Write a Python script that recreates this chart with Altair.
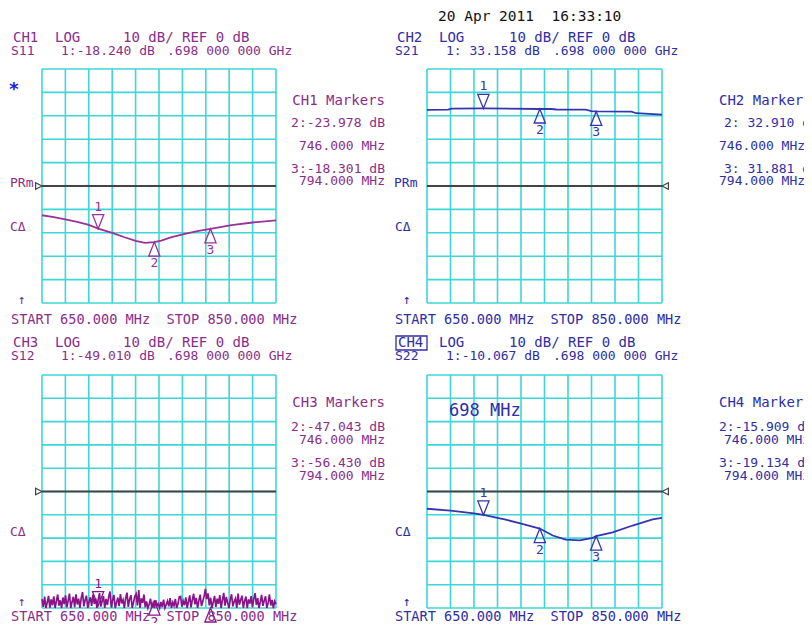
import altair as alt
import pandas as pd

# ---------------- data ----------------
freqs_grid = [650, 670, 690, 710, 730, 750, 770, 790, 810, 830, 850]
db_grid = [-50, -40, -30, -20, -10, 0, 10, 20, 30, 40, 50]

marker_freq = [698, 746, 794]
marker_id = ["1", "2", "3"]

ch1_freq = [650, 660, 670, 680, 690, 698, 710, 720, 730, 738, 746, 752, 760, 774, 784, 794, 812, 830, 850]
ch1_s11 = [-12.5, -13.3, -14.3, -15.3, -16.6, -18.24, -20.0, -21.8, -23.4, -24.3, -23.98, -23.3,
           -22.0, -20.2, -19.2, -18.30, -16.7, -15.6, -14.7]
ch1_mk = [-18.240, -23.978, -18.301]

ch2_freq = [650, 668, 671, 698, 746, 756, 760, 785, 790, 794, 824, 828, 850]
ch2_s21 = [32.5, 32.6, 33.1, 33.16, 32.91, 32.9, 32.7, 32.6, 32.0, 31.88, 31.8, 31.1, 30.5]
ch2_mk = [33.158, 32.910, 31.881]

ch3_s12 = [
    -46.2, -49.5, -45.1, -50.3, -47.6, -44.8, -49.9, -46.3, -48.8, -45.0, -50.6, -47.1, -44.2, -49.0, -46.7, -50.2, -45.5, -48.3, -44.6, -49.7,
    -46.9, -43.8, -50.1, -47.4, -45.2, -49.6, -44.1, -48.5, -46.0, -50.4, -45.7, -43.2, -49.3, -46.6, -44.7, -50.0, -47.3, -45.4, -49.1, -44.3,
    -48.2, -45.9, -50.7, -46.4, -43.6, -49.4, -47.0, -44.9, -50.5, -46.1, -48.7, -45.3, -42.9, -49.8, -46.8, -44.4, -50.2, -47.7, -45.6, -49.2,
    -44.0, -48.0, -46.5, -50.8, -45.8, -43.4, -49.5, -46.2, -44.5, -50.3, -47.5, -45.1, -44.0, -48.9, -42.3, -50.6, -45.9, -47.8, -44.2, -49.7,
    -47.2, -50.9, -48.4, -46.0, -49.9, -47.9, -50.4, -46.7, -49.1, -48.2, -50.7, -47.4, -49.6, -46.4, -50.1, -48.6, -47.0, -49.3, -45.8, -50.5,
    -47.6, -49.0, -46.1, -50.2, -48.3, -45.2, -45.0, -49.4, -46.9, -48.8, -45.4, -50.3, -47.3, -44.6, -49.7, -46.5, -43.9, -48.4, -45.7, -50.0,
    -46.8, -44.3, -49.2, -47.1, -45.0, -41.8, -46.2, -43.7, -48.9, -45.6, -50.1, -47.5, -44.8, -49.5, -46.0, -48.2, -44.5, -50.4, -46.7, -43.5,
    -49.0, -45.3, -47.8, -50.7, -46.4, -44.1, -49.3, -47.2, -45.9, -50.2, -43.8, -48.6, -46.6, -44.7, -49.9, -47.0, -45.1, -50.5, -46.3, -48.1,
    -44.9, -49.6, -46.1, -43.6, -48.7, -45.8, -50.3, -47.4, -44.4, -49.1, -46.8, -45.0, -50.0, -47.7, -44.2, -48.9, -46.5, -50.4, -47.1, -48.3,
]
ch3_freq = [650 + i * 200 / (len(ch3_s12) - 1) for i in range(len(ch3_s12))]
ch3_mk = [-49.010, -47.043, -56.430]

ch4_freq = [650, 670, 690, 698, 717, 731, 746, 757, 768, 780, 791, 794, 808, 825, 842, 850]
ch4_s22 = [-7.4, -8.2, -9.4, -10.07, -12.1, -13.9, -15.91, -18.9, -20.7, -21.0, -19.9, -19.13, -17.5,
           -14.6, -12.0, -11.3]
ch4_mk = [-10.067, -15.909, -19.134]

# ---------------- style ----------------
OFF = 8
FONT = "DejaVu Sans Mono"
GRID = "#3ED6D6"
REF = "#444444"
P = "#8B2D8B"      # purple text
B = "#2E2EA6"      # blue text
TP = "#993399"     # purple trace
TB = "#3535B0"     # blue trace
TN = "#8A138A"     # noise trace

DOWN = "M-0.8,-2L0.8,-2L0,0Z"
UP = "M0,0L0.8,2L-0.8,2Z"
ARR_R = "M-1.6,-0.8L0,0L-1.6,0.8Z"
ARR_L = "M1.6,-0.8L0,0L1.6,0.8Z"


def panel(xr, yr, tf, tv, mv, tcolor, side, lw=1.4):
    xs = alt.Scale(domain=[650, 850], range=xr, nice=False, zero=False)
    ys = alt.Scale(domain=[-50, 50], range=yr, nice=False, zero=False, clamp=True)

    def X(f):
        return alt.X(f, type="quantitative", scale=xs, axis=None)

    def Y(f):
        return alt.Y(f, type="quantitative", scale=ys, axis=None)

    gv = pd.DataFrame({"f": freqs_grid, "lo": -50, "hi": 50})
    gh = pd.DataFrame({"d": db_grid, "f0": 650, "f1": 850})
    ref = pd.DataFrame({"d": [0], "f0": [650], "f1": [850]})
    arr = pd.DataFrame({"f": [650 if side == "left" else 850], "d": [0]})
    tr = pd.DataFrame({"f": tf, "v": tv})
    mk = pd.DataFrame({"f": marker_freq, "v": mv, "id": marker_id})
    down = mk[mk.id == "1"]
    up = mk[mk.id != "1"]
    L = [
        alt.Chart(gv).mark_rule(color=GRID, strokeWidth=1.6).encode(x=X("f"), y=Y("lo"), y2="hi"),
        alt.Chart(gh).mark_rule(color=GRID, strokeWidth=1.6).encode(y=Y("d"), x=X("f0"), x2="f1"),
        alt.Chart(ref).mark_rule(color=REF, strokeWidth=2).encode(y=Y("d"), x=X("f0"), x2="f1"),
        alt.Chart(arr).mark_point(shape=ARR_R if side == "left" else ARR_L, size=64, filled=False,
                                  stroke=REF, strokeWidth=1.2, opacity=1).encode(x=X("f"), y=Y("d")),
        alt.Chart(tr).mark_line(color=tcolor, strokeWidth=lw).encode(x=X("f"), y=Y("v")),
        alt.Chart(down).mark_point(shape=DOWN, size=196, filled=False, stroke=tcolor, strokeWidth=1.3,
                                   opacity=1).encode(x=X("f"), y=Y("v")),
        alt.Chart(up).mark_point(shape=UP, size=196, filled=False, stroke=tcolor, strokeWidth=1.3,
                                 opacity=1).encode(x=X("f"), y=Y("v")),
        alt.Chart(down).mark_text(dy=-22, font=FONT, fontSize=13, color=tcolor).encode(
            x=X("f"), y=Y("v"), text="id:N"),
        alt.Chart(up).mark_text(dy=21, font=FONT, fontSize=13, color=tcolor).encode(
            x=X("f"), y=Y("v"), text="id:N"),
    ]
    return L


NB = "\u00a0"
START = "START 650.000 MHz" + NB + NB + "STOP 850.000 MHz"
labels = [
    (438, 17, "20 Apr 2011" + NB + NB + "16:33:10", "#111111", 14.5, "left"),
    # CH1
    (13, 38, "CH1", P, 14, "left"), (55, 38, "LOG", P, 14, "left"), (123, 38, "10 dB/ REF 0 dB", P, 14, "left"),
    (11, 51, "S11", P, 13, "left"), (61, 51, "1:-18.240 dB", P, 13, "left"),
    (167, 51, ".698 000 000 GHz", P, 13, "left"),
    (385, 101, "CH1 Markers", P, 14, "right"), (385, 123, "2:-23.978 dB", P, 13, "right"),
    (385, 146, "746.000 MHz", P, 13, "right"), (385, 169, "3:-18.301 dB", P, 13, "right"),
    (385, 181, "794.000 MHz", P, 13, "right"),
    (10, 183, "PRm", P, 13, "left"), (10, 227, "CΔ", P, 13, "left"), (18, 300, "↑", P, 13, "left"),
    (11, 320, START, P, 13.6, "left"),
    # CH2
    (397, 38, "CH2", B, 14, "left"), (439, 38, "LOG", B, 14, "left"), (509, 38, "10 dB/ REF 0 dB", B, 14, "left"),
    (395, 51, "S21", B, 13, "left"), (446, 51, "1: 33.158 dB", B, 13, "left"),
    (553, 51, ".698 000 000 GHz", B, 13, "left"),
    (719, 101, "CH2 Markers", B, 14, "left"), (724, 123, "2: 32.910 dB", B, 13, "left"),
    (719, 146, "746.000 MHz", B, 13, "left"), (724, 169, "3: 31.881 dB", B, 13, "left"),
    (719, 181, "794.000 MHz", B, 13, "left"),
    (394, 183, "PRm", B, 13, "left"), (395, 227, "CΔ", B, 13, "left"), (403, 300, "↑", B, 13, "left"),
    (395, 320, START, B, 13.6, "left"),
    # CH3
    (13, 343, "CH3", P, 14, "left"), (55, 343, "LOG", P, 14, "left"), (123, 343, "10 dB/ REF 0 dB", P, 14, "left"),
    (11, 356, "S12", P, 13, "left"), (61, 356, "1:-49.010 dB", P, 13, "left"),
    (167, 356, ".698 000 000 GHz", P, 13, "left"),
    (385, 403, "CH3 Markers", P, 14, "right"), (385, 427, "2:-47.043 dB", P, 13, "right"),
    (385, 440, "746.000 MHz", P, 13, "right"), (385, 463, "3:-56.430 dB", P, 13, "right"),
    (385, 476, "794.000 MHz", P, 13, "right"),
    (10, 532, "CΔ", P, 13, "left"), (18, 602, "↑", P, 13, "left"),
    (11, 617, START, P, 13.6, "left"),
    # CH4
    (398, 343, "CH4", B, 14, "left"), (439, 343, "LOG", B, 14, "left"), (509, 343, "10 dB/ REF 0 dB", B, 14, "left"),
    (395, 356, "S22", B, 13, "left"), (446, 356, "1:-10.067 dB", B, 13, "left"),
    (553, 356, ".698 000 000 GHz", B, 13, "left"),
    (719, 403, "CH4 Markers", B, 14, "left"), (719, 427, "2:-15.909 dB", B, 13, "left"),
    (724, 440, "746.000 MHz", B, 13, "left"), (719, 463, "3:-19.134 dB", B, 13, "left"),
    (724, 476, "794.000 MHz", B, 13, "left"),
    (449, 411, "698 MHz", B, 17, "left"),
    (395, 532, "CΔ", B, 13, "left"), (403, 602, "↑", B, 13, "left"),
    (395, 617, START, B, 13.6, "left"),
]
lab = pd.DataFrame(labels, columns=["x", "y", "t", "c", "s", "a"])
lab["px"] = lab.x - OFF
lab["py"] = lab.y - OFF

layers = []
layers += panel([34, 268], [295, 61], ch1_freq, ch1_s11, ch1_mk, TP, "left", 1.8)
layers += panel([419, 654], [295, 61], ch2_freq, ch2_s21, ch2_mk, TB, "right", 1.8)
layers += panel([34, 268], [600, 367], ch3_freq, ch3_s12, ch3_mk, TN, "left", 1.7)
layers += panel([419, 654], [600, 367], ch4_freq, ch4_s22, ch4_mk, TB, "right", 1.8)

for a in ["left", "right"]:
    layers.append(
        alt.Chart(lab[lab.a == a]).mark_text(align=a, baseline="middle", font=FONT).encode(
            x=alt.X("px:Q", scale=None, axis=None),
            y=alt.Y("py:Q", scale=None, axis=None),
            text="t:N",
            color=alt.Color("c:N", scale=None),
            size=alt.Size("s:Q", scale=None),
        )
    )

star = pd.DataFrame({"px": [14 - OFF], "py": [90 - OFF], "t": ["*"]})
layers.append(alt.Chart(star).mark_text(font=FONT, fontSize=18, fontWeight="bold", color="#1A1AE0",
                                        baseline="middle").encode(
    x=alt.X("px:Q", scale=None, axis=None), y=alt.Y("py:Q", scale=None, axis=None), text="t:N"))

box = pd.DataFrame({"x0": [396 - OFF], "x1": [427 - OFF], "y0": [336 - OFF], "y1": [350 - OFF]})
layers.append(alt.Chart(box).mark_rect(fillOpacity=0, stroke=B, strokeWidth=1.3).encode(
    x=alt.X("x0:Q", scale=None, axis=None), x2="x1:Q",
    y=alt.Y("y0:Q", scale=None, axis=None), y2="y1:Q"))

chart = (
    alt.layer(*layers)
    .resolve_scale(x="independent", y="independent")
    .properties(width=796, height=615, padding=0, autosize=alt.AutoSizeParams(type="none"),
                background="white")
    .configure_view(stroke=None)
)

chart.save("out.html", embed_options={"renderer": "svg", "actions": False})
